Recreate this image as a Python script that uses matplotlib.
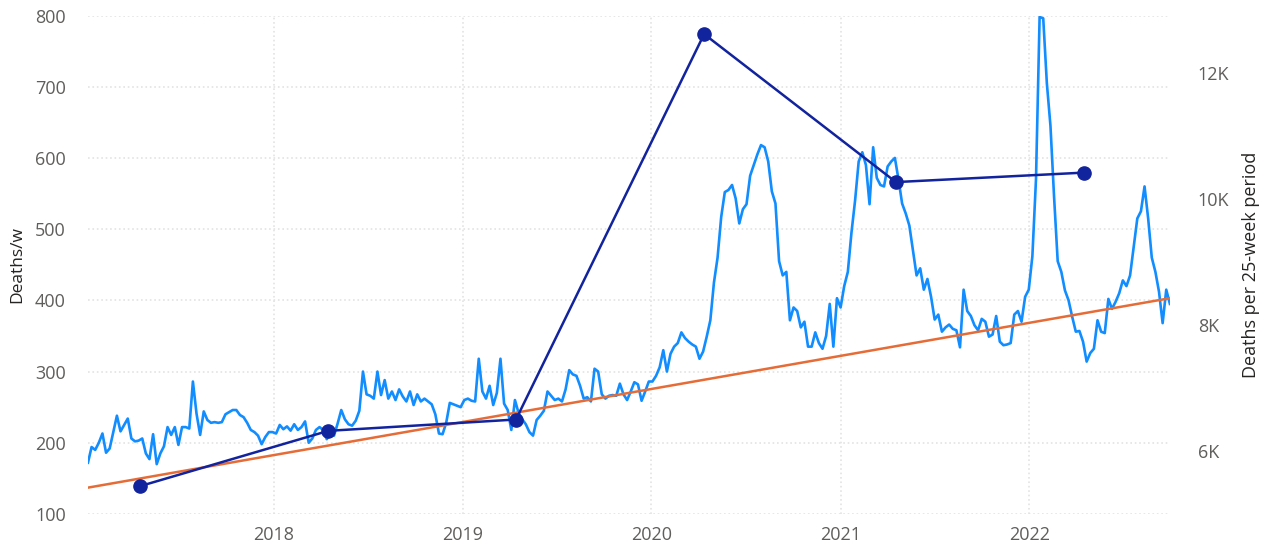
import matplotlib
matplotlib.use("Agg")
import matplotlib.pyplot as plt
import matplotlib.dates as mdates
import pandas as pd

# weekly deaths (first week starts early Jan 2017)
weekly = [
    172, 194, 190, 200, 213, 186, 192, 215, 238, 216,
    225, 234, 206, 202, 203, 206, 185, 177, 212, 170,
    185, 195, 222, 211, 222, 197, 222, 222, 220, 286,
    241, 211, 244, 232, 228, 229, 228, 229, 240, 243,
    246, 246, 239, 236, 228, 218, 215, 210, 198, 208,
    215, 215, 213, 225, 219, 223, 217, 226, 218, 222,
    230, 200, 206, 218, 222, 218, 205, 214, 210, 227,
    246, 233, 226, 224, 231, 245, 300, 268, 266, 262,
    300, 267, 288, 262, 272, 260, 275, 265, 258, 272,
    253, 268, 258, 262, 258, 254, 240, 213, 212, 228,
    256, 254, 252, 250, 260, 262, 259, 258, 318, 272,
    262, 280, 253, 270, 318, 255, 246, 218, 260, 242,
    233, 226, 215, 210, 232, 238, 245, 272, 266, 260,
    262, 258, 275, 302, 296, 294, 280, 262, 264, 258,
    304, 300, 268, 262, 266, 267, 266, 283, 268, 260,
    272, 285, 282, 259, 272, 286, 286, 294, 306, 330,
    300, 325, 335, 340, 355, 347, 342, 338, 335, 318,
    328, 349, 372, 425, 460, 517, 552, 555, 562, 543,
    508, 528, 535, 575, 590, 605, 618, 615, 595, 553,
    536, 455, 435, 440, 372, 390, 385, 362, 370, 335,
    335, 355, 340, 332, 350, 395, 335, 403, 390, 420,
    440, 495, 540, 595, 608, 590, 535, 615, 572, 562,
    560, 588, 595, 600, 570, 536, 522, 505, 470, 435,
    445, 415, 430, 405, 373, 380, 356, 362, 366, 360,
    358, 334, 415, 385, 378, 365, 358, 374, 370, 349,
    352, 378, 342, 337, 338, 340, 380, 385, 370, 405,
    415, 462, 570, 798, 796, 705, 645, 545, 455, 440,
    414, 400, 377, 356, 357, 342, 314, 326, 332, 372,
    356, 354, 402, 388, 398, 410, 428, 420, 435, 475,
    515, 525, 560, 515, 460, 440, 412, 368, 415, 395,
]
first_week = "2017-01-06"

# linear trend of weekly deaths (start / end value)
trend_vals = [137, 403]

# deaths per 25-week period (right axis)
period_dates = ["2017-04-16", "2018-04-16", "2019-04-14",
                "2020-04-12", "2021-04-18", "2022-04-16"]
period_vals = [5440, 6320, 6500, 12620, 10270, 10420]

dates = pd.date_range(first_week, periods=len(weekly), freq="7D")
pdates = pd.to_datetime(period_dates)

plt.rcParams["font.family"] = ["Open Sans", "DejaVu Sans"]
tick_col = "#605E5C"
grid_col = "#E3E3E3"

fig = plt.figure(figsize=(12.62, 5.5), dpi=100)
ax = fig.add_axes([0.0697, 0.0655, 0.8573, 0.9063])

ax.plot(dates, weekly, color="#118DFF", lw=1.9, zorder=2)
ax.plot([dates[0], dates[-1]], trend_vals, color="#E66C37", lw=1.8, zorder=3)
ax.set_xlim(dates[0], dates[-1])
ax.set_ylim(100, 800)
ax.set_yticks(range(100, 801, 100))
ax.xaxis.set_major_locator(mdates.YearLocator())
ax.xaxis.set_major_formatter(mdates.DateFormatter("%Y"))
ax.grid(True, ls=":", color=grid_col, lw=1.2)
ax.set_axisbelow(True)
ax.tick_params(length=0, labelsize=13, colors=tick_col, pad=9)
ax.tick_params(axis="y", pad=16)
ax.set_ylabel("Deaths/w", fontsize=12.5, color="#252423")
ax.yaxis.set_label_coords(-0.058, 0.5)
for s in ax.spines.values():
    s.set_visible(False)

ax2 = ax.twinx()
ax2.plot(pdates, period_vals, color="#12239E", lw=1.8, marker="o", ms=9.5, zorder=4)
ax2.set_ylim(5000, 12915)
ax2.set_yticks([6000, 8000, 10000, 12000])
ax2.set_yticklabels(["6K", "8K", "10K", "12K"])
ax2.tick_params(length=0, labelsize=13, colors=tick_col, pad=20)
ax2.set_ylabel("Deaths per 25-week period", fontsize=13, color="#252423", rotation=90)
ax2.yaxis.set_label_coords(1.0665, 0.5)
for s in ax2.spines.values():
    s.set_visible(False)
ax2.set_xlim(dates[0], dates[-1])

fig.savefig("out.png", dpi=100)
